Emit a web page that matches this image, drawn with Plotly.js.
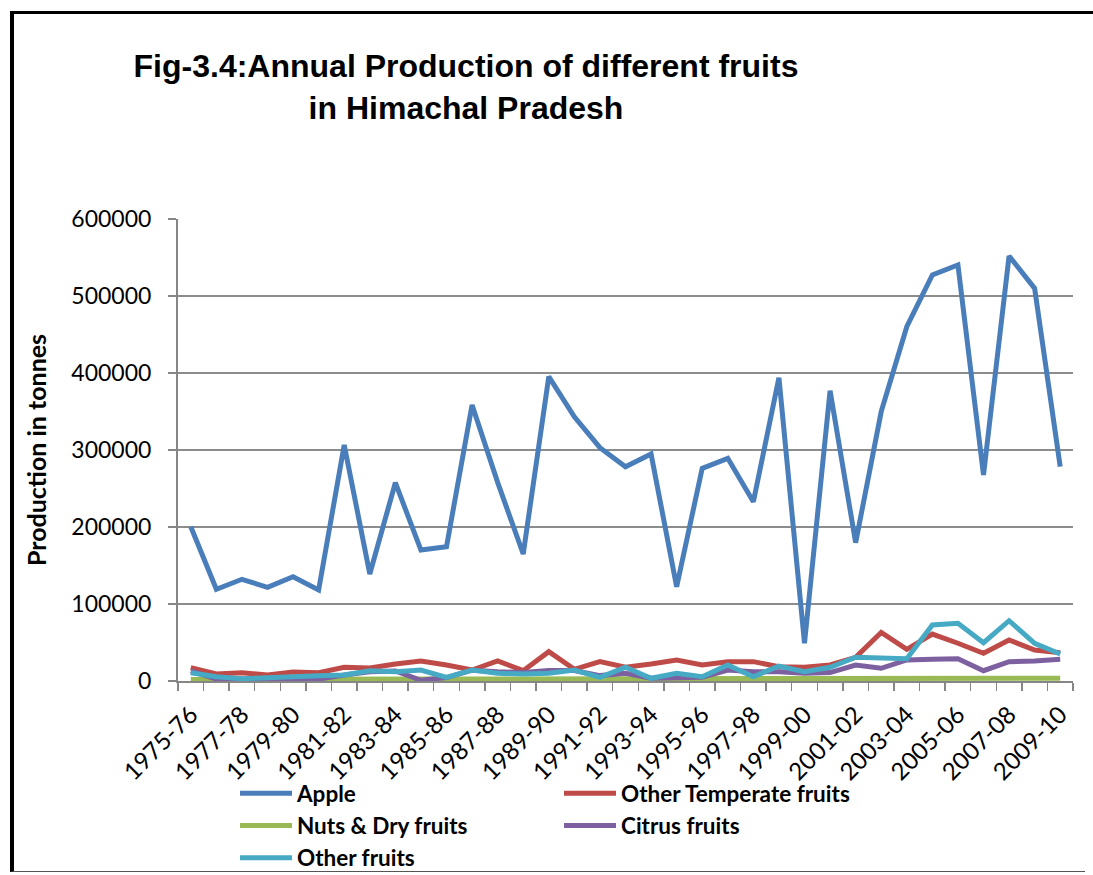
<!DOCTYPE html>
<html>
<head>
<meta charset="utf-8">
<script src="https://cdn.plot.ly/plotly-3.0.1.min.js"></script>
<style>
  html, body { margin: 0; padding: 0; background: #fff; overflow: hidden; }
  #wrap { position: relative; width: 1093px; height: 875px; overflow: hidden; }
  #chart { width: 1093px; height: 875px; }
  #frame {
    position: absolute; left: 10px; top: 11px; width: 1200px; height: 861px;
    border-left: 4.5px solid #000; border-top: 3px solid #000; border-bottom: 1.5px solid #555;
    pointer-events: none; box-sizing: border-box; z-index: 5;
  }
  #rightcover {
    position: absolute; right: 0; top: 14px; width: 8px; height: 858px;
    background: #fff; pointer-events: none; z-index: 6;
  }
</style>
</head>
<body>
<div id="wrap">
<div id="chart"></div>
<div id="frame"></div>
<div id="rightcover"></div>
</div>
<script>
const years = ["1975-76","1976-77","1977-78","1978-79","1979-80","1980-81","1981-82","1982-83","1983-84","1984-85","1985-86","1986-87","1987-88","1988-89","1989-90","1990-91","1991-92","1992-93","1993-94","1994-95","1995-96","1996-97","1997-98","1998-99","1999-00","2000-01","2001-02","2002-03","2003-04","2004-05","2005-06","2006-07","2007-08","2008-09","2009-10"];

const apple = [200400,119100,132100,121700,135500,118200,306500,139000,257500,170100,174400,358400,258000,164900,395200,343200,303000,278300,294800,122500,276200,289200,232900,393900,48900,377000,179600,349800,460100,527300,540300,267500,551900,509900,278300];

const otherTemperate = [17300,9100,10800,7800,11700,10800,17800,16900,22100,26000,20800,14300,26000,13400,38100,15200,25100,17800,22100,27300,20800,25100,25100,18600,17800,20800,30800,63200,41200,61000,49000,36000,53200,40300,36800];

const nutsDry = [2100,2000,2200,2100,2300,2200,2400,2500,2600,2400,2500,2700,2800,2600,2900,2700,2800,3000,2900,3100,3000,3200,3100,3300,3200,3400,3500,3600,3700,3800,3700,3600,3800,3700,3500];

const citrus = [13000,2500,2500,2500,3000,2500,7800,12000,13000,1000,4500,14000,12000,11000,13500,13500,7000,10000,3500,4800,4800,14300,12000,12000,10000,11000,20800,16500,27300,28100,29000,13400,25100,26000,28100];

const otherFruits = [10800,5600,3000,4300,6900,6900,7800,13400,12100,14300,4800,14300,10000,9100,10000,14300,4800,17800,3500,10000,5600,20800,5600,19500,12100,17800,30800,29500,29000,72700,74900,49700,78300,49000,35100];

const seriesNames = ["Apple","Other Temperate fruits","Nuts & Dry fruits","Citrus fruits","Other fruits"];
const seriesColors = ["#4a7ebb","#be4b48","#98b954","#7d60a0","#46aac5"];
const seriesValues = [apple, otherTemperate, nutsDry, citrus, otherFruits];

const tickText = years.map((y, i) => (i % 2 === 0 ? y : ""));

const traces = seriesValues.map((vals, k) => ({
  type: "scatter",
  mode: "lines",
  name: seriesNames[k],
  x: years,
  y: vals,
  line: { color: seriesColors[k], width: 5 },
  hoverinfo: "x+y+name"
}));

// plot area: x 178..1073, y 219..681
const L = 178, R = 1073, T = 219, B = 681;
const px = v => (v - L) / (R - L);
const py = v => (B - v) / (B - T);

const layout = {
  width: 1093,
  height: 875,
  margin: { l: L, r: 1093 - R, t: T, b: 875 - B, autoexpand: false },
  paper_bgcolor: "#ffffff",
  plot_bgcolor: "#ffffff",
  showlegend: true,
  title: {
    text: "Fig-3.4:Annual Production of different fruits<br>in Himachal Pradesh",
    font: { family: "Liberation Sans, Arial, sans-serif", size: 32, color: "#000000", weight: "bold" },
    x: 466 / 1093,
    xanchor: "center",
    xref: "container",
    yref: "container",
    y: 1 - 77 / 875,
    yanchor: "top",
    automargin: false
  },
  xaxis: {
    type: "category",
    automargin: false,
    tickmode: "array",
    tickvals: years,
    ticktext: tickText,
    tickson: "boundaries",
    ticks: "outside",
    ticklen: 8,
    tickwidth: 1.5,
    tickcolor: "#868686",
    tickangle: -45,
    ticklabelstandoff: 8,
    tickfont: { family: "Lato, Carlito, sans-serif", size: 24, color: "#000000" },
    showline: true,
    linecolor: "#868686",
    linewidth: 2,
    showgrid: false,
    zeroline: false,
    range: [-0.5, years.length - 0.5],
    fixedrange: true
  },
  yaxis: {
    automargin: false,
    range: [0, 600000],
    dtick: 100000,
    tickformat: "d",
    ticks: "outside",
    ticklen: 8,
    tickwidth: 1.5,
    tickcolor: "#868686",
    tickfont: { family: "Lato, Carlito, sans-serif", size: 23, color: "#000000" },
    ticklabelstandoff: 12,
    showline: true,
    linecolor: "#868686",
    linewidth: 2,
    showgrid: true,
    gridcolor: "#8c8c8c",
    gridwidth: 1.5,
    zeroline: false,
    title: {
      text: "Production in tonnes",
      font: { family: "Lato, Carlito, sans-serif", size: 25, color: "#000000", weight: "bold" },
      standoff: 18
    },
    fixedrange: true
  },
  legend: {
    orientation: "h",
    x: px(235),
    xanchor: "left",
    y: py(772),
    yanchor: "top",
    entrywidth: 257,
    entrywidthmode: "pixels",
    itemwidth: 52,
    traceorder: "normal",
    font: { family: "Lato, Carlito, sans-serif", size: 22.5, color: "#000000", weight: "bold" },
    bgcolor: "rgba(0,0,0,0)"
  }
};

Plotly.newPlot("chart", traces, layout, { displayModeBar: false, staticPlot: true });
</script>
</body>
</html>
